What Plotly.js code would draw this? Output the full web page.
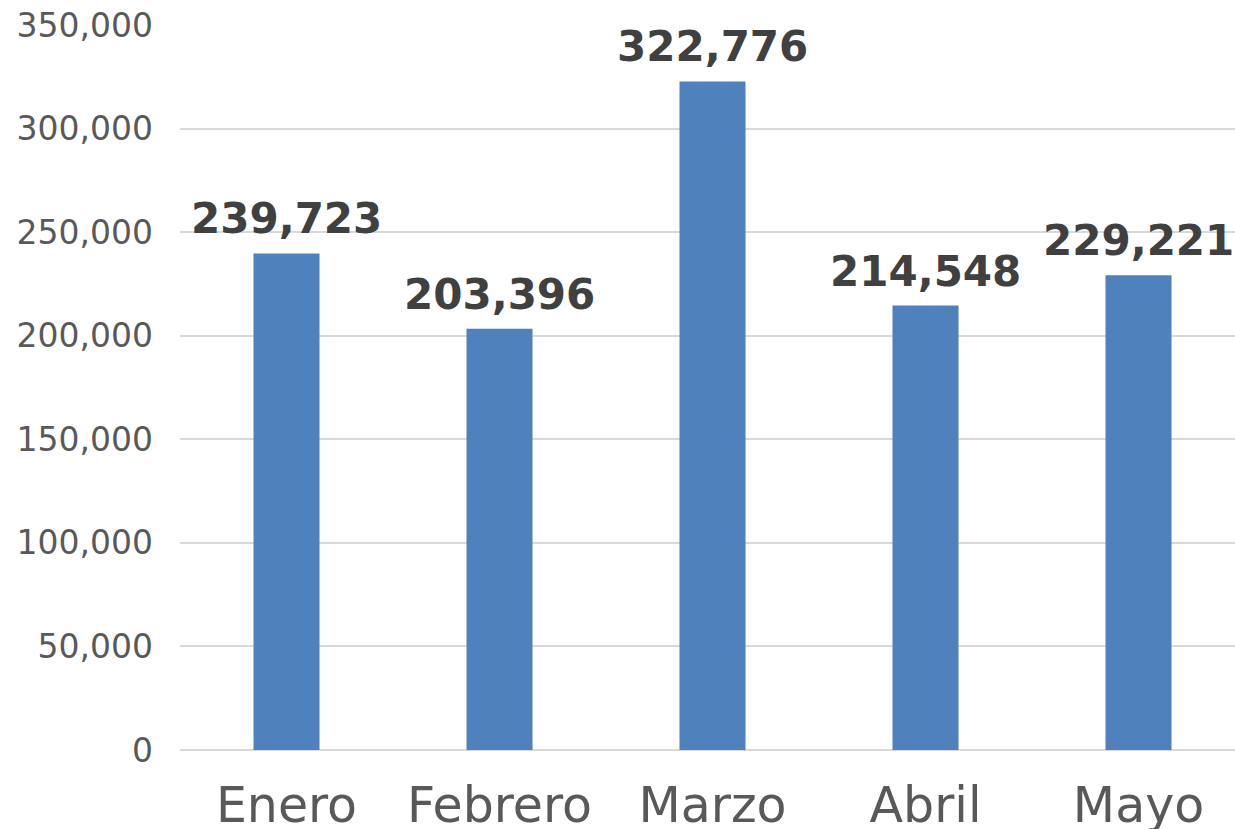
<!DOCTYPE html>
<html>
<head>
<meta charset="utf-8">
<script src="https://cdn.plot.ly/plotly-3.0.1.min.js"></script>
<style>html,body{margin:0;padding:0;background:#fff;}#chart{width:1235px;height:829px;}</style>
</head>
<body>
<div id="chart"></div>
<script>
const categories = ["Enero", "Febrero", "Marzo", "Abril", "Mayo"];
const values = [239723, 203396, 322776, 214548, 229221];
const yTickValues = [0, 50000, 100000, 150000, 200000, 250000, 300000, 350000];
const yTickLabels = ["0", "50,000", "100,000", "150,000", "200,000", "250,000", "300,000", "350,000"];

const fmt = v => v.toLocaleString("en-US");

const trace = {
  type: "bar",
  x: categories,
  y: values,
  width: 0.31,
  marker: {color: "#4F81BD"},
  hoverinfo: "none"
};

const annotations = categories.map((c, i) => ({
  x: c, y: values[i], xref: "x", yref: "y",
  text: fmt(values[i]),
  showarrow: false,
  yanchor: "bottom",
  yshift: 8,
  font: {family: "DejaVu Sans", size: 42, color: "#404040", weight: "bold"}
}));

const layout = {
  width: 1235, height: 829,
  margin: {l: 180, r: 0, t: 25, b: 79, pad: 0},
  paper_bgcolor: "#fff", plot_bgcolor: "#fff",
  showlegend: false,
  bargap: 0.69,
  xaxis: {
    type: "category",
    range: [-0.5, 4.453],
    showgrid: false, zeroline: false, showline: false,
    ticks: "",
    tickfont: {family: "DejaVu Sans", size: 49, color: "#595959"},
    ticklabelstandoff: 22
  },
  yaxis: {
    range: [0, 350000],
    tickvals: yTickValues,
    ticktext: yTickLabels,
    showgrid: true, gridcolor: "#D9D9D9", gridwidth: 2,
    zeroline: true, zerolinecolor: "#D9D9D9", zerolinewidth: 2,
    showline: false, ticks: "",
    tickfont: {family: "DejaVu Sans", size: 33, color: "#595959"},
    ticklabelstandoff: 26
  },
  annotations: annotations
};

Plotly.newPlot("chart", [trace], layout, {staticPlot: true, displayModeBar: false});
</script>
</body>
</html>
